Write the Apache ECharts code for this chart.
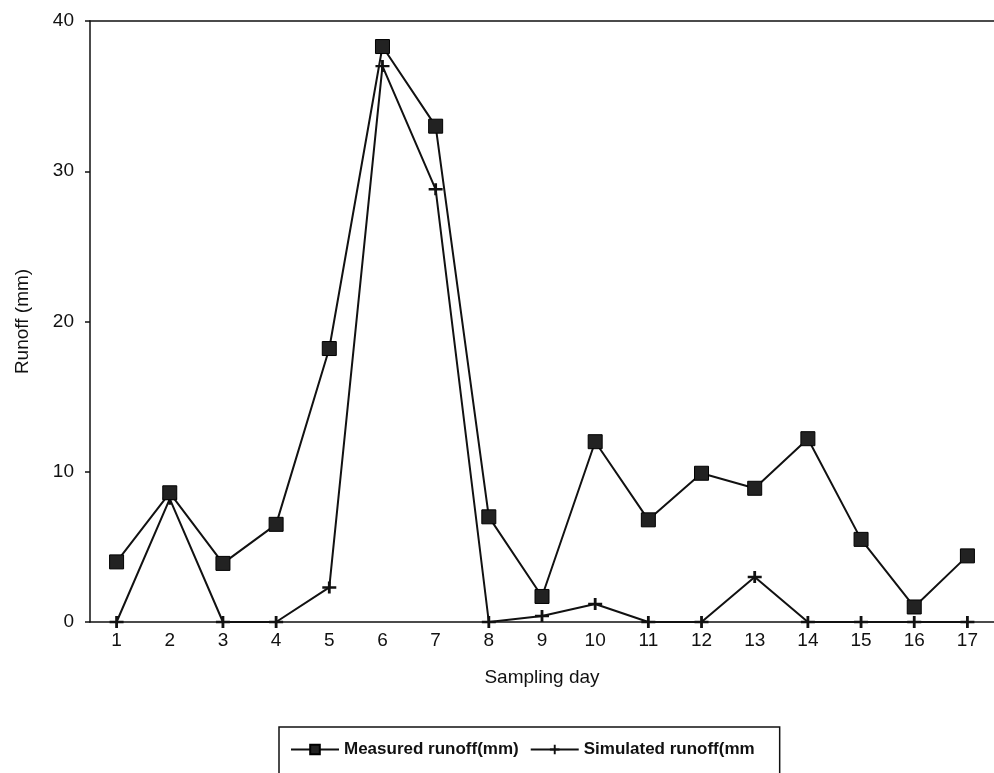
<!DOCTYPE html>
<html>
<head>
<meta charset="utf-8">
<script src="https://cdn.jsdelivr.net/npm/echarts@6/dist/echarts.min.js"></script>
<style>
html, body { margin: 0; padding: 0; background: #fff; }
#main { width: 994px; height: 773px; }
</style>
</head>
<body>
<div id="main"></div>
<script>
var days = ['1', '2', '3', '4', '5', '6', '7', '8', '9', '10', '11', '12', '13', '14', '15', '16', '17'];
var measured = [4.0, 8.6, 3.9, 6.5, 18.2, 38.3, 33.0, 7.0, 1.7, 12.0, 6.8, 9.9, 8.9, 12.2, 5.5, 1.0, 4.4];
var simulated = [0, 8.2, 0, 0, 2.3, 37.0, 28.8, 0, 0.4, 1.2, 0, 0, 3.0, 0, 0, 0, 0];

var plusPath = 'path://M0,4L10,4L10,6L0,6Z M4,0L6,0L6,10L4,10Z';
var font = 'Liberation Sans, Arial, sans-serif';

var chartDom = document.getElementById('main');
var myChart = echarts.init(chartDom);
var option;
option = {
	animation: false,
	backgroundColor: '#fff',
	grid: {
		left: 90,
		right: 0,
		top: 21,
		height: 601
	},
	legend: {
		data: ['Measured runoff(mm)', 'Simulated runoff(mm'],
		left: 279,
		top: 727,
		itemWidth: 48,
		itemHeight: 12,
		itemGap: 11,
		padding: [14, 25, 30, 11],
		borderColor: '#111',
		borderWidth: 1.5,
		textStyle: {
			fontFamily: font,
			fontSize: 17,
			fontWeight: 'bold',
			color: '#111'
		}
	},
	xAxis: [{
		type: 'category',
		data: days,
		boundaryGap: true,
		name: 'Sampling day',
		nameLocation: 'middle',
		nameGap: 46,
		nameTextStyle: { fontFamily: font, fontSize: 19, color: '#111' },
		axisLine: { lineStyle: { color: '#111', width: 1.5 } },
		axisTick: { alignWithLabel: true, length: 6, lineStyle: { color: '#111', width: 1.5 } },
		axisLabel: { fontFamily: font, fontSize: 19, color: '#111', margin: 9 }
	}, {
		type: 'category',
		data: days,
		position: 'top',
		axisLine: { lineStyle: { color: '#111', width: 1.5 } },
		axisTick: { show: false },
		axisLabel: { show: false }
	}],
	yAxis: {
		type: 'value',
		min: 0,
		max: 40,
		interval: 10,
		name: 'Runoff (mm)',
		nameLocation: 'middle',
		nameGap: 58,
		nameTextStyle: { fontFamily: font, fontSize: 19, color: '#111' },
		axisLine: { show: true, lineStyle: { color: '#111', width: 1.5 } },
		axisTick: { show: true, length: 5, lineStyle: { color: '#111', width: 1.5 } },
		axisLabel: { fontFamily: font, fontSize: 19, color: '#111', margin: 16 },
		splitLine: { show: false }
	},
	series: [{
			name: 'Measured runoff(mm)',
			type: 'line',
			data: measured,
			symbol: 'rect',
			symbolSize: 14,
			lineStyle: { color: '#111', width: 2 },
			itemStyle: { color: '#222', borderColor: '#000', borderWidth: 1 },
			z: 3
		},
		{
			name: 'Simulated runoff(mm',
			type: 'line',
			data: simulated,
			symbol: plusPath,
			symbolSize: [14, 12],
			lineStyle: { color: '#111', width: 2 },
			itemStyle: { color: '#111' },
			z: 2
		}
	]
};
option && myChart.setOption(option);
</script>
</body>
</html>
